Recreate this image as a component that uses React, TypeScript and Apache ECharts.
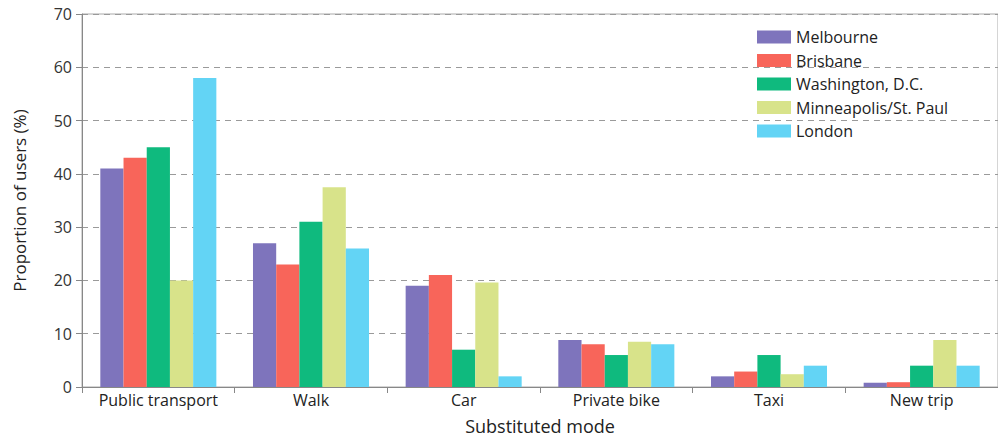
import React, { useEffect, useRef } from "react";
import * as echarts from "echarts";

const categories = ["Public transport", "Walk", "Car", "Private bike", "Taxi", "New trip"];
const cities = ["Melbourne", "Brisbane", "Washington, D.C.", "Minneapolis/St. Paul", "London"];
const melbourne = [41, 27, 19, 8.8, 2, 0.8];
const brisbane = [43, 23, 21, 8, 2.9, 0.9];
const washington = [45, 31, 7, 6, 6, 4];
const minneapolis = [20, 37.5, 19.6, 8.5, 2.4, 8.8];
const london = [58, 26, 2, 8, 4, 4];
const colors = ["#7E74BC", "#F8655A", "#0FBA7E", "#D8E38A", "#63D4F5"];

const FONT = "'Open Sans', 'Noto Sans', sans-serif";

export default function App() {
  const ref = useRef<HTMLDivElement>(null);
  useEffect(() => {
    if (!ref.current) return;
    const chart = echarts.init(ref.current, null, { renderer: "svg" });
    const seriesData = [melbourne, brisbane, washington, minneapolis, london];
    chart.setOption({
      animation: false,
      backgroundColor: "#ffffff",
      textStyle: { fontFamily: FONT },
      grid: {
        left: 82,
        right: -14,
        top: 14,
        bottom: 46,
        show: true,
        borderColor: "#aaaaaa",
        borderWidth: 1,
        containLabel: false,
      },
      legend: {
        orient: "vertical",
        left: 752,
        top: 24,
        itemWidth: 34,
        itemHeight: 13,
        itemGap: 7.5,
        icon: "rect",
        textStyle: { fontFamily: FONT, fontSize: 16, color: "#222" },
        data: cities,
      },
      xAxis: {
        type: "category",
        data: categories,
        name: "Substituted mode",
        nameLocation: "middle",
        nameGap: 30,
        nameTextStyle: { fontFamily: FONT, fontSize: 18, color: "#222" },
        axisLine: { lineStyle: { color: "#888", width: 1 } },
        axisTick: { show: true, length: 6, lineStyle: { color: "#888" } },
        axisLabel: { interval: 0, fontFamily: FONT, fontSize: 16, color: "#222", margin: 5 },
      },
      yAxis: {
        type: "value",
        min: 0,
        max: 70,
        interval: 10,
        name: "Proportion of users (%)",
        nameLocation: "middle",
        nameGap: 54,
        nameTextStyle: { fontFamily: FONT, fontSize: 17, color: "#222" },
        axisLine: { show: true, lineStyle: { color: "#888", width: 1 } },
        axisTick: { show: true, length: 6, lineStyle: { color: "#888" } },
        axisLabel: { fontFamily: FONT, fontSize: 16, color: "#333", margin: 10 },
        splitLine: { show: true, lineStyle: { color: "#9a9a9a", type: [6, 5], width: 1 } },
      },
      series: cities.map((c, i) => ({
        name: c,
        type: "bar",
        data: seriesData[i],
        barGap: "0%",
        barCategoryGap: "24%",
        itemStyle: { color: colors[i] },
      })),
    });
    return () => chart.dispose();
  }, []);
  return (
    <div
      ref={ref}
      style={{ position: "fixed", left: 0, top: 0, width: 998, height: 440, background: "#fff" }}
    />
  );
}
